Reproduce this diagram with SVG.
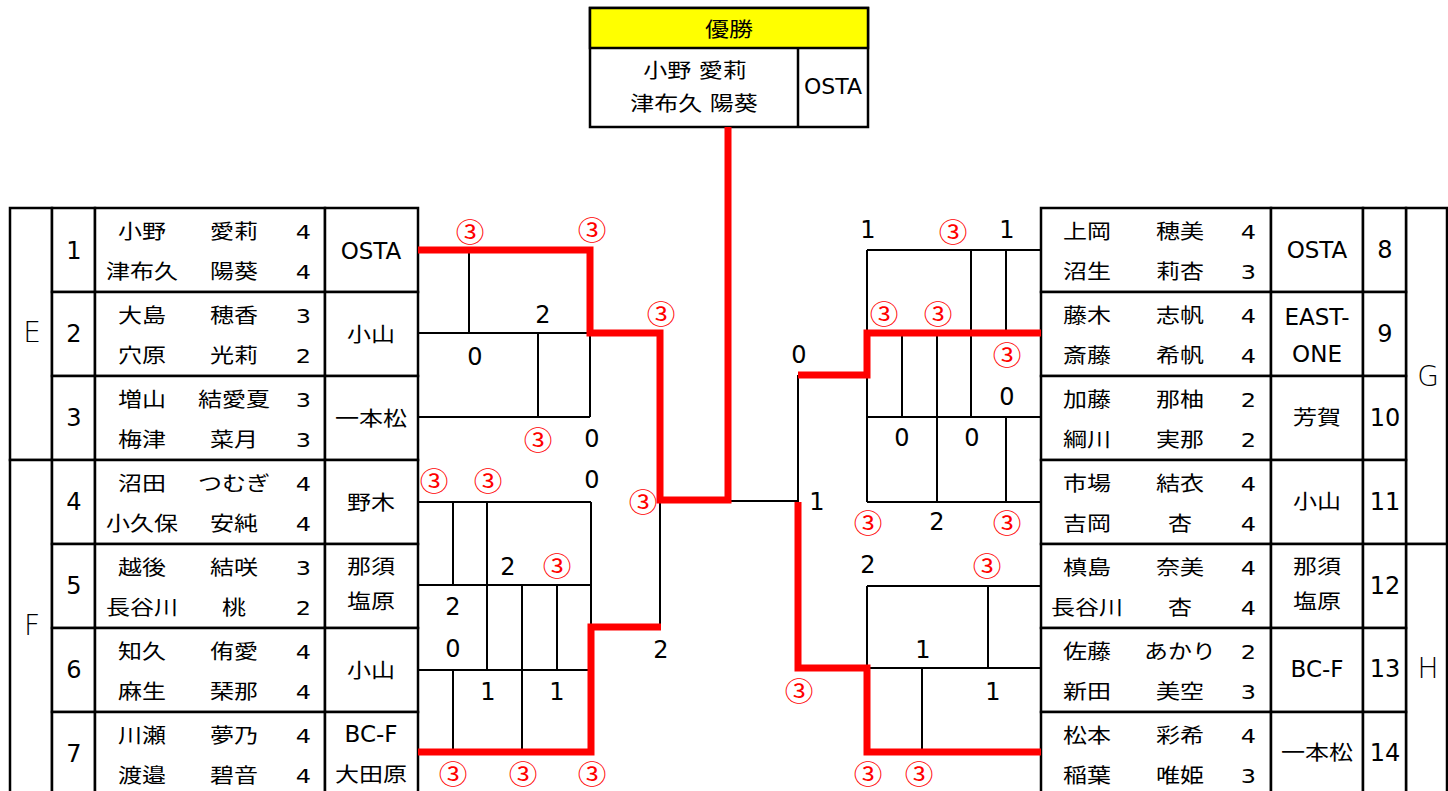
<svg xmlns="http://www.w3.org/2000/svg" width="1448" height="791" viewBox="0 0 1448 791">
<style>
.cell{fill:#fff;stroke:#000;stroke-width:2.5}
.t{font-family:"DejaVu Sans","Noto Sans CJK JP",sans-serif;font-size:20px;fill:#000;text-anchor:middle;dominant-baseline:central}
.s{transform-box:fill-box;transform-origin:center;transform:scaleX(1.2)}
.tl{font-size:23px}
.b{font-size:24px}
.g{font-size:28px;font-weight:300}
.c{font-family:"Noto Sans CJK JP",sans-serif;font-size:26px;fill:#f00;transform-box:fill-box;transform-origin:center;transform:scaleX(1.1)}
.ln{stroke:#000;stroke-width:2;fill:none}
.red{stroke:#f00;stroke-width:7;fill:none;stroke-linejoin:miter}
</style>
<rect width="1448" height="791" fill="#fff"/>

<g id="winner">
<rect class="cell" x="590" y="8" width="278" height="119"/>
<rect x="590" y="8" width="278" height="40" fill="#ffff00" stroke="#000" stroke-width="2.5"/>
<path d="M798 48V127" stroke="#000" stroke-width="2.5"/>
<text class="t s" x="729" y="30">優勝</text>
<text class="t s" x="695" y="71">小野 愛莉</text>
<text class="t s" x="694" y="104">津布久 陽葵</text>
<text class="t" x="833" y="86" style="font-size:22px">OSTA</text>
</g>

<g id="group-E"><rect class="cell" x="10" y="208" width="42" height="252"/><text class="t g" x="32" y="332">E</text></g>
<g id="group-F"><rect class="cell" x="10" y="460" width="42" height="336"/><text class="t g" x="32" y="625">F</text></g>
<g id="group-G"><rect class="cell" x="1406" y="208" width="41" height="336"/><text class="t g" x="1428" y="376">G</text></g>
<g id="group-H"><rect class="cell" x="1406" y="544" width="41" height="252"/><text class="t g" x="1428" y="668">H</text></g>

<g id="entry-1">
<rect class="cell" x="52" y="208" width="43" height="84"/><rect class="cell" x="95" y="208" width="230" height="84"/><rect class="cell" x="325" y="208" width="93" height="84"/>
<text class="t b" x="74" y="251">1</text>
<text class="t s" x="142" y="232">小野</text><text class="t s" x="234" y="232">愛莉</text><text class="t s" x="303.5" y="232">4</text>
<text class="t s" x="142" y="272">津布久</text><text class="t s" x="234" y="272">陽葵</text><text class="t s" x="303.5" y="272">4</text>
<text class="t tl" x="371" y="251">OSTA</text>
</g>
<g id="entry-2">
<rect class="cell" x="52" y="292" width="43" height="84"/><rect class="cell" x="95" y="292" width="230" height="84"/><rect class="cell" x="325" y="292" width="93" height="84"/>
<text class="t b" x="74" y="334">2</text>
<text class="t s" x="142" y="316">大島</text><text class="t s" x="234" y="316">穂香</text><text class="t s" x="303.5" y="316">3</text>
<text class="t s" x="142" y="356">穴原</text><text class="t s" x="234" y="356">光莉</text><text class="t s" x="303.5" y="356">2</text>
<text class="t s" x="371" y="335">小山</text>
</g>
<g id="entry-3">
<rect class="cell" x="52" y="376" width="43" height="84"/><rect class="cell" x="95" y="376" width="230" height="84"/><rect class="cell" x="325" y="376" width="93" height="84"/>
<text class="t b" x="74" y="418">3</text>
<text class="t s" x="142" y="400">増山</text><text class="t s" x="234" y="400">結愛夏</text><text class="t s" x="303.5" y="400">3</text>
<text class="t s" x="142" y="440">梅津</text><text class="t s" x="234" y="440">菜月</text><text class="t s" x="303.5" y="440">3</text>
<text class="t s" x="371" y="419">一本松</text>
</g>
<g id="entry-4">
<rect class="cell" x="52" y="460" width="43" height="84"/><rect class="cell" x="95" y="460" width="230" height="84"/><rect class="cell" x="325" y="460" width="93" height="84"/>
<text class="t b" x="74" y="502">4</text>
<text class="t s" x="142" y="484">沼田</text><text class="t s" x="234" y="484">つむぎ</text><text class="t s" x="303.5" y="484">4</text>
<text class="t s" x="142" y="524">小久保</text><text class="t s" x="234" y="524">安純</text><text class="t s" x="303.5" y="524">4</text>
<text class="t s" x="371" y="503">野木</text>
</g>
<g id="entry-5">
<rect class="cell" x="52" y="544" width="43" height="84"/><rect class="cell" x="95" y="544" width="230" height="84"/><rect class="cell" x="325" y="544" width="93" height="84"/>
<text class="t b" x="74" y="586">5</text>
<text class="t s" x="142" y="568">越後</text><text class="t s" x="234" y="568">結咲</text><text class="t s" x="303.5" y="568">3</text>
<text class="t s" x="142" y="608">長谷川</text><text class="t s" x="234" y="608">桃</text><text class="t s" x="303.5" y="608">2</text>
<text class="t s" x="371" y="567">那須</text><text class="t s" x="371" y="602">塩原</text>
</g>
<g id="entry-6">
<rect class="cell" x="52" y="628" width="43" height="84"/><rect class="cell" x="95" y="628" width="230" height="84"/><rect class="cell" x="325" y="628" width="93" height="84"/>
<text class="t b" x="74" y="670">6</text>
<text class="t s" x="142" y="652">知久</text><text class="t s" x="234" y="652">侑愛</text><text class="t s" x="303.5" y="652">4</text>
<text class="t s" x="142" y="692">麻生</text><text class="t s" x="234" y="692">琹那</text><text class="t s" x="303.5" y="692">4</text>
<text class="t s" x="371" y="671">小山</text>
</g>
<g id="entry-7">
<rect class="cell" x="52" y="712" width="43" height="84"/><rect class="cell" x="95" y="712" width="230" height="84"/><rect class="cell" x="325" y="712" width="93" height="84"/>
<text class="t b" x="74" y="754">7</text>
<text class="t s" x="142" y="736">川瀬</text><text class="t s" x="234" y="736">夢乃</text><text class="t s" x="303.5" y="736">4</text>
<text class="t s" x="142" y="776">渡邉</text><text class="t s" x="234" y="776">碧音</text><text class="t s" x="303.5" y="776">4</text>
<text class="t tl" x="371" y="734">BC-F</text><text class="t s" x="371" y="775">大田原</text>
</g>

<g id="entry-8">
<rect class="cell" x="1041" y="208" width="230" height="84"/><rect class="cell" x="1271" y="208" width="92" height="84"/><rect class="cell" x="1363" y="208" width="43" height="84"/>
<text class="t s" x="1087" y="232">上岡</text><text class="t s" x="1180" y="232">穂美</text><text class="t s" x="1248.5" y="232">4</text>
<text class="t s" x="1087" y="272">沼生</text><text class="t s" x="1180" y="272">莉杏</text><text class="t s" x="1248.5" y="272">3</text>
<text class="t tl" x="1317" y="250">OSTA</text>
<text class="t b" x="1385" y="250">8</text>
</g>
<g id="entry-9">
<rect class="cell" x="1041" y="292" width="230" height="84"/><rect class="cell" x="1271" y="292" width="92" height="84"/><rect class="cell" x="1363" y="292" width="43" height="84"/>
<text class="t s" x="1087" y="316">藤木</text><text class="t s" x="1180" y="316">志帆</text><text class="t s" x="1248.5" y="316">4</text>
<text class="t s" x="1087" y="356">斎藤</text><text class="t s" x="1180" y="356">希帆</text><text class="t s" x="1248.5" y="356">4</text>
<text class="t tl" x="1317" y="317">EAST-</text><text class="t tl" x="1317" y="354">ONE</text>
<text class="t b" x="1385" y="334">9</text>
</g>
<g id="entry-10">
<rect class="cell" x="1041" y="376" width="230" height="84"/><rect class="cell" x="1271" y="376" width="92" height="84"/><rect class="cell" x="1363" y="376" width="43" height="84"/>
<text class="t s" x="1087" y="400">加藤</text><text class="t s" x="1180" y="400">那柚</text><text class="t s" x="1248.5" y="400">2</text>
<text class="t s" x="1087" y="440">綱川</text><text class="t s" x="1180" y="440">実那</text><text class="t s" x="1248.5" y="440">2</text>
<text class="t s" x="1317" y="418">芳賀</text>
<text class="t b" x="1385" y="418">10</text>
</g>
<g id="entry-11">
<rect class="cell" x="1041" y="460" width="230" height="84"/><rect class="cell" x="1271" y="460" width="92" height="84"/><rect class="cell" x="1363" y="460" width="43" height="84"/>
<text class="t s" x="1087" y="484">市場</text><text class="t s" x="1180" y="484">結衣</text><text class="t s" x="1248.5" y="484">4</text>
<text class="t s" x="1087" y="524">吉岡</text><text class="t s" x="1180" y="524">杏</text><text class="t s" x="1248.5" y="524">4</text>
<text class="t s" x="1317" y="502">小山</text>
<text class="t b" x="1385" y="502">11</text>
</g>
<g id="entry-12">
<rect class="cell" x="1041" y="544" width="230" height="84"/><rect class="cell" x="1271" y="544" width="92" height="84"/><rect class="cell" x="1363" y="544" width="43" height="84"/>
<text class="t s" x="1087" y="568">槙島</text><text class="t s" x="1180" y="568">奈美</text><text class="t s" x="1248.5" y="568">4</text>
<text class="t s" x="1087" y="608">長谷川</text><text class="t s" x="1180" y="608">杏</text><text class="t s" x="1248.5" y="608">4</text>
<text class="t s" x="1317" y="567">那須</text><text class="t s" x="1317" y="602">塩原</text>
<text class="t b" x="1385" y="586">12</text>
</g>
<g id="entry-13">
<rect class="cell" x="1041" y="628" width="230" height="84"/><rect class="cell" x="1271" y="628" width="92" height="84"/><rect class="cell" x="1363" y="628" width="43" height="84"/>
<text class="t s" x="1087" y="652">佐藤</text><text class="t s" x="1180" y="652">あかり</text><text class="t s" x="1248.5" y="652">2</text>
<text class="t s" x="1087" y="692">新田</text><text class="t s" x="1180" y="692">美空</text><text class="t s" x="1248.5" y="692">3</text>
<text class="t tl" x="1317" y="669">BC-F</text>
<text class="t b" x="1385" y="669">13</text>
</g>
<g id="entry-14">
<rect class="cell" x="1041" y="712" width="230" height="84"/><rect class="cell" x="1271" y="712" width="92" height="84"/><rect class="cell" x="1363" y="712" width="43" height="84"/>
<text class="t s" x="1087" y="736">松本</text><text class="t s" x="1180" y="736">彩希</text><text class="t s" x="1248.5" y="736">4</text>
<text class="t s" x="1087" y="776">稲葉</text><text class="t s" x="1180" y="776">唯姫</text><text class="t s" x="1248.5" y="776">3</text>
<text class="t s" x="1317" y="753">一本松</text>
<text class="t b" x="1385" y="753">14</text>
</g>

<g id="connectors">
<path class="ln" d="M469 250V333M418 333H590M538 333V417M418 417H590M590 333V417"/>
<path class="ln" d="M418 502H591M453 502V585M487 502V670M418 585H591M591 502V627M522 585V670M557 585V670M418 670H590M453 670V752M522 670V752M660 500V627"/>
<path class="ln" d="M660 501H798M798 375V502"/>
<path class="ln" d="M867 250H1040M867 250V502M971 250V417M1006 250V333M902 333V417M937 333V502M867 417H1040M1006 417V502M867 502H1040"/>
<path class="ln" d="M867 586H1040M867 586V668M988 586V668M867 668H1040M922 668V752"/>
<path class="red" d="M418 250H590V333H660V500H728V127"/>
<path class="red" d="M418 752H591V627H661"/>
<path class="red" d="M1041 333H867V375H798"/>
<path class="red" d="M798 502V668H867V752H1041"/>
</g>

<g id="scores">
<text class="t c" x="470" y="231">③</text>
<text class="t c" x="592" y="229">③</text>
<text class="t c" x="661" y="313">③</text>
<text class="t b" x="543" y="315">2</text>
<text class="t b" x="475" y="357">0</text>
<text class="t c" x="538" y="439">③</text>
<text class="t b" x="592" y="439">0</text>
<text class="t c" x="434" y="480">③</text>
<text class="t c" x="488" y="480">③</text>
<text class="t b" x="592" y="480">0</text>
<text class="t c" x="643" y="501">③</text>
<text class="t b" x="508" y="567">2</text>
<text class="t c" x="557" y="565">③</text>
<text class="t b" x="453" y="607">2</text>
<text class="t b" x="453" y="649">0</text>
<text class="t b" x="488" y="692">1</text>
<text class="t b" x="557" y="692">1</text>
<text class="t b" x="661" y="650">2</text>
<text class="t c" x="453" y="773">③</text>
<text class="t c" x="523" y="773">③</text>
<text class="t c" x="592" y="773">③</text>
<text class="t b" x="868" y="230">1</text>
<text class="t c" x="953" y="231">③</text>
<text class="t b" x="1007" y="230">1</text>
<text class="t c" x="884" y="313">③</text>
<text class="t c" x="938" y="313">③</text>
<text class="t b" x="799" y="355">0</text>
<text class="t c" x="1007" y="354">③</text>
<text class="t b" x="1007" y="397">0</text>
<text class="t b" x="902" y="438">0</text>
<text class="t b" x="972" y="438">0</text>
<text class="t b" x="817" y="502">1</text>
<text class="t c" x="868" y="522">③</text>
<text class="t b" x="937" y="522">2</text>
<text class="t c" x="1007" y="522">③</text>
<text class="t b" x="868" y="565">2</text>
<text class="t c" x="987" y="565">③</text>
<text class="t b" x="923" y="650">1</text>
<text class="t b" x="993" y="692">1</text>
<text class="t c" x="799" y="690">③</text>
<text class="t c" x="868" y="773">③</text>
<text class="t c" x="919" y="773">③</text>
</g>
</svg>
